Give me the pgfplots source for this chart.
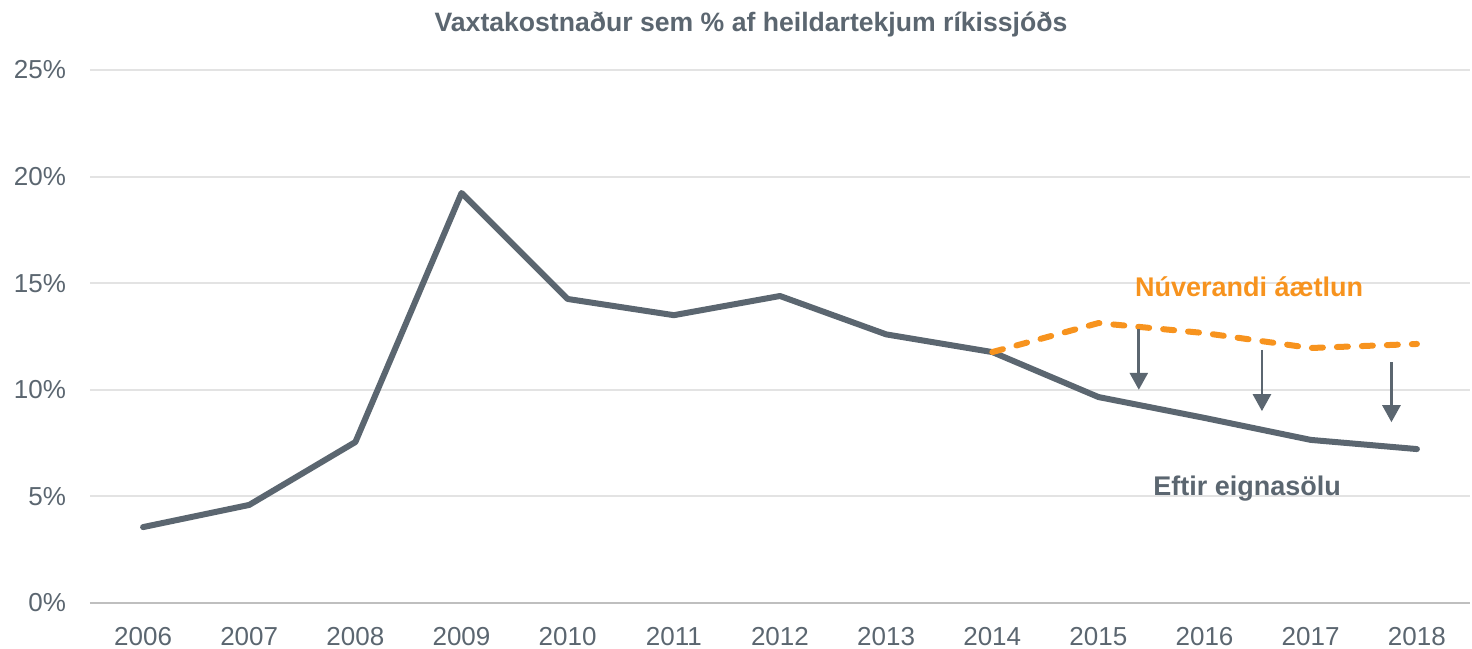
\documentclass[border=0pt]{standalone}
\usepackage{fontspec}
\setmainfont{Liberation Sans}
\usepackage{pgfplots}
\pgfplotsset{compat=1.18}
\usetikzlibrary{arrows.meta}
\definecolor{lineGray}{HTML}{5B6670}
\definecolor{planOrange}{HTML}{F7931E}
\definecolor{gridGray}{HTML}{E3E3E3}
\definecolor{axisGray}{HTML}{BFBFBF}

\begin{document}
\begin{tikzpicture}
\begin{axis}[scale only axis,width=690pt,height=266.5pt,
  xmin=2005.5,xmax=2018.5,ymin=0,ymax=25,
  xtick={2006,...,2018},ytick={0,5,...,25},
  /pgf/number format/assume math mode=true,
  xticklabel style={/pgf/number format/1000 sep={}},
  yticklabel={\pgfmathprintnumber{\tick}\%},
  tick label style={font=\fontsize{13}{15}\selectfont,text=lineGray},
  xticklabel style={yshift=-8.5pt},
  yticklabel style={xshift=-8.5pt},
  axis x line*=bottom,axis y line*=left,
  x axis line style={axisGray,line width=1pt,-},
  y axis line style={draw=none},
  major tick length=0pt,
  ymajorgrids,grid style={gridGray,line width=1pt},
  clip=false]
\addplot[lineGray,line width=3pt,line join=round,line cap=round] coordinates {
  (2006,3.56) (2007,4.60) (2008,7.55) (2009,19.23) (2010,14.26) (2011,13.50)
  (2012,14.40) (2013,12.60) (2014,11.77) (2015,9.66) (2016,8.68) (2017,7.65) (2018,7.22)};
\addplot[planOrange,line width=3pt,line cap=round,dash pattern=on 5.5pt off 7pt] coordinates {
  (2014,11.77) (2015,13.13) (2016,12.66) (2017,11.96) (2018,12.15)};
\addplot[lineGray,line width=1.4pt,
  quiver={u=\thisrow{u},v=\thisrow{v},
    every arrow/.append style={-{Triangle[width=9pt,length=8.5pt]}}}]
  table {
  x y u v
  2015.38 12.85 0 -2.85
  2016.54 11.87 0 -2.87
  2017.76 11.30 0 -2.82
  };
\node[font=\bfseries\fontsize{13.5}{16}\selectfont,text=planOrange] at (axis cs:2016.42,14.82) {Núverandi áætlun};
\node[font=\bfseries\fontsize{13.5}{16}\selectfont,text=lineGray] at (axis cs:2016.40,5.39) {Eftir eignasölu};
\node[font=\bfseries\fontsize{13.3}{15}\selectfont,text=lineGray] at (rel axis cs:0.479,1.0) [yshift=22.5pt] {Vaxtakostnaður sem \% af heildartekjum ríkissjóðs};
\coordinate (bl) at (rel axis cs:0,0);
\coordinate (tr) at (rel axis cs:1,1);
\end{axis}
\pgfresetboundingbox
\path ([shift={(-45pt,-22.5pt)}]bl) rectangle ([shift={(1pt,35pt)}]tr);
\end{tikzpicture}
\end{document}
